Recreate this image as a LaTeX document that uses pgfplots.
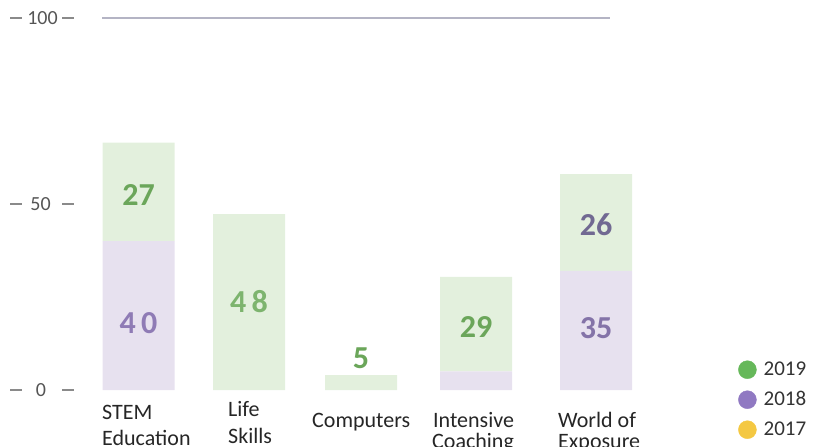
\documentclass[border=0pt]{standalone}
\usepackage{pgfplots}
\pgfplotsset{compat=1.18}
\usepackage{fontspec}
\setmainfont{Carlito}
\definecolor{gbar}{HTML}{E3F0DD}
\definecolor{pbar}{HTML}{E7E1EF}
\definecolor{gtxt}{HTML}{6BA65A}
\definecolor{gtxt2}{HTML}{7DB46E}
\definecolor{ptxt}{HTML}{8F7BB5}
\definecolor{ptxt2}{HTML}{716992}
\definecolor{ptxt3}{HTML}{8473A8}
\definecolor{tickgray}{HTML}{555555}
\definecolor{dashgray}{HTML}{8A8A8A}
\definecolor{leg19}{HTML}{66B85A}
\definecolor{leg18}{HTML}{9079C2}
\definecolor{leg17}{HTML}{F4C842}
\definecolor{hline}{HTML}{B4B4C4}
\tikzset{
  barlbl/.style={font=\fontsize{32bp}{34bp}\selectfont\bfseries, inner sep=0pt},
  ticklbl/.style={text=tickgray, font=\fontsize{20bp}{22bp}\selectfont, inner sep=0pt},
  catlbl/.style={text=black!85, font=\fontsize{22bp}{24bp}\selectfont, inner sep=0pt, anchor=base west},
}
\begin{document}
\begin{tikzpicture}
\begin{axis}[
  scale only axis, width=821bp, height=447bp,
  xmin=0, xmax=821, ymin=-15.32, ymax=104.84,
  axis lines=none, xtick=\empty, ytick=\empty,
  clip=false,
  ybar stacked, bar width=72,
  legend style={at={(axis cs:738,8.6)}, anchor=north west, draw=none, fill=none,
    font=\fontsize{21bp}{24bp}\selectfont, text=black!80, inner sep=0pt, row sep=7bp,
    nodes={inner sep=2bp, text height=15bp, text depth=4bp},
    /tikz/every odd column/.append style={column sep=5bp}},
  legend cell align=left,
]
\addlegendimage{legend image code/.code={\fill[leg19] (9bp,0bp) circle (9bp);}}
\addlegendentry{2019}
\addlegendimage{legend image code/.code={\fill[leg18] (9bp,0bp) circle (9bp);}}
\addlegendentry{2018}
\addlegendimage{legend image code/.code={\fill[leg17] (9bp,0bp) circle (9bp);}}
\addlegendentry{2017}
\addplot[fill=pbar, draw=none] coordinates {(138.5,40) (249,0) (361,0) (476,5) (596,32)};
\addplot[fill=gbar, draw=none] coordinates {(138.5,26.5) (249,47.3) (361,4) (476,25.4) (596,26)};
\draw[hline, line width=2bp] (axis cs:102,100) -- (axis cs:610,100);
% anchor coordinates for labels
\coordinate (l1) at (axis cs:138.5,52.4);
\coordinate (l2) at (axis cs:138.5,18.0);
\coordinate (l3) at (axis cs:249,23.7);
\coordinate (l4) at (axis cs:361,8.6);
\coordinate (l5) at (axis cs:476,16.9);
\coordinate (l6) at (axis cs:596,44.4);
\coordinate (l7) at (axis cs:596,16.7);
% y tick labels
\draw[dashgray, line width=1.6bp] (axis cs:10,100) -- (axis cs:22,100);
\draw[dashgray, line width=1.6bp] (axis cs:62,100) -- (axis cs:74,100);
\draw[dashgray, line width=1.6bp] (axis cs:10,50) -- (axis cs:22,50);
\draw[dashgray, line width=1.6bp] (axis cs:62,50) -- (axis cs:74,50);
\draw[dashgray, line width=1.6bp] (axis cs:10,0) -- (axis cs:22,0);
\draw[dashgray, line width=1.6bp] (axis cs:62,0) -- (axis cs:74,0);
\node[ticklbl] at (axis cs:42.5,100) {100};
\node[ticklbl] at (axis cs:40.5,50) {50};
\node[ticklbl] at (axis cs:41,0) {0};
% category labels
\node[catlbl] at (axis cs:102,-8.06) {STEM};
\node[catlbl] at (axis cs:102,-15.05) {Education};
\node[catlbl] at (axis cs:228,-6.99) {Life};
\node[catlbl] at (axis cs:228,-14.25) {Skills};
\node[catlbl] at (axis cs:312,-9.95) {Computers};
\node[catlbl] at (axis cs:433,-9.95) {Intensive};
\node[catlbl] at (axis cs:432,-15.59) {Coaching};
\node[catlbl] at (axis cs:558,-9.95) {World of};
\node[catlbl] at (axis cs:558,-15.59) {Exposure};
\end{axis}
\node[barlbl, gtxt] at (l1) {27};
\node[barlbl, ptxt] at (l2) {4\,0};
\node[barlbl, gtxt2] at (l3) {4\,8};
\node[barlbl, gtxt] at (l4) {5};
\node[barlbl, gtxt] at (l5) {29};
\node[barlbl, ptxt2] at (l6) {26};
\node[barlbl, ptxt3] at (l7) {35};
\pgfresetboundingbox
\path (current axis.south west) rectangle (current axis.north east);
\end{tikzpicture}
\end{document}
